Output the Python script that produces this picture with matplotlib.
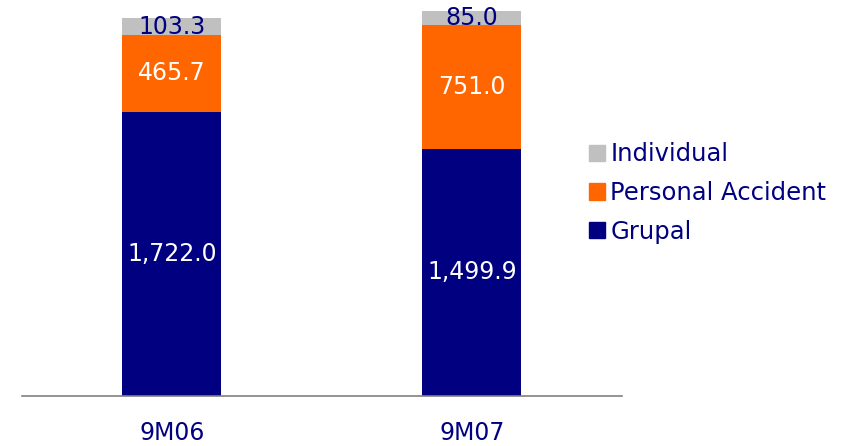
import matplotlib
matplotlib.use("Agg")
import matplotlib.pyplot as plt
from matplotlib.patches import Patch

categories = ["9M06", "9M07"]
grupal = [1722.0, 1499.9]
personal_accident = [465.7, 751.0]
individual = [103.3, 85.0]

NAVY = "#000080"
ORANGE = "#FF6600"
GREY = "#C0C0C0"

plt.rcParams['font.family'] = ['DejaVu Sans']

fig = plt.figure(figsize=(8.48, 4.46), dpi=100)
# axes: x from 22px to 622px, baseline at y=396px
ax = fig.add_axes([22/848, (446-396)/446, 600/848, 396/446])

x = list(range(len(categories)))
w = 0.33
ax.bar(x, grupal, w, color=NAVY, label="Grupal")
ax.bar(x, personal_accident, w, bottom=grupal, color=ORANGE, label="Personal Accident")
bottom3 = [g + p for g, p in zip(grupal, personal_accident)]
ax.bar(x, individual, w, bottom=bottom3, color=GREY, label="Individual")

ax.set_xlim(-0.5, 1.5)
ax.set_ylim(0, 396/0.165)

fs = 17
for i in x:
    ax.text(i, grupal[i]/2, f"{grupal[i]:,.1f}", ha="center", va="center", color="white", fontsize=fs)
    ax.text(i, grupal[i] + personal_accident[i]/2, f"{personal_accident[i]:,.1f}", ha="center", va="center", color="white", fontsize=fs)
    ax.text(i, bottom3[i] + individual[i]/2, f"{individual[i]:,.1f}", ha="center", va="center", color=NAVY, fontsize=fs)

for s in ["top", "right", "left"]:
    ax.spines[s].set_visible(False)
ax.spines["bottom"].set_color("#808080")
ax.spines["bottom"].set_linewidth(1.2)
ax.set_yticks([])
ax.set_xticks(x)
ax.set_xticklabels(categories, color=NAVY, fontsize=17)
ax.tick_params(axis="x", length=0, pad=18)

handles = [Patch(color=GREY), Patch(color=ORANGE), Patch(color=NAVY)]
labels = ["Individual", "Personal Accident", "Grupal"]
fig.legend(handles, labels, loc="center left", bbox_to_anchor=(567/848, 1 - 193/446),
           frameon=False, fontsize=17.5, handlelength=0.66, handleheight=0.66,
           handletextpad=0.22, labelspacing=0.6, labelcolor=NAVY)

fig.savefig("out.png", dpi=100)
